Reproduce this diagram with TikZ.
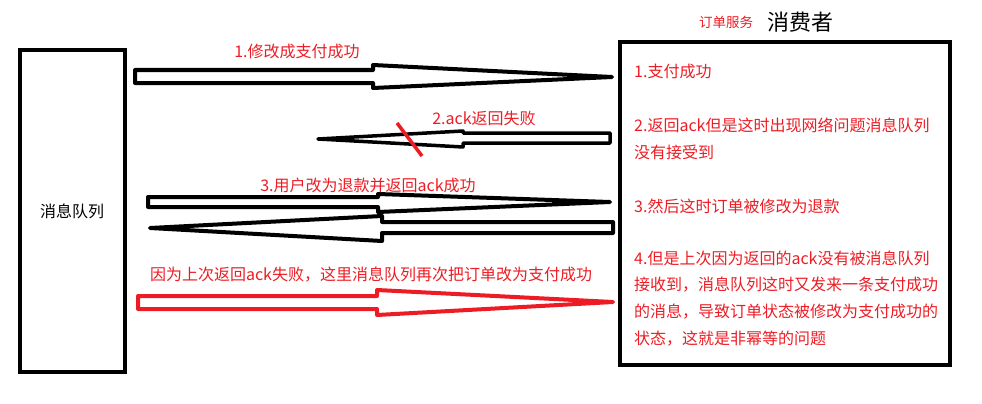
\documentclass[tikz,border=0pt]{standalone}
\usepackage{fontspec}
\setmainfont{Noto Sans CJK SC}
\definecolor{paintred}{RGB}{237,28,36}
\tikzset{
  box/.style={draw, line width=4pt, inner sep=0pt},
  blockarrow/.style={draw, fill=white, line width=4pt, line join=round},
  note/.style={text=paintred, font=\fontsize{16}{18}\selectfont, inner sep=0pt},
  item/.style={note, anchor=west}
}
\begin{document}
\begin{tikzpicture}[x=1pt, y=-1pt]
  \useasboundingbox (0,0) rectangle (982,404);
  % boxes
  \node[box, minimum width=105pt, minimum height=322pt, font=\fontsize{16}{18}\selectfont] (mq) at (72,211) {消息队列};
  \node[box, minimum width=330pt, minimum height=323pt] (consumer) at (785,203.5) {};
  \node[note, font=\fontsize{13.5}{15}\selectfont] (svc) at (726,22) {订单服务};
  \node[inner sep=0pt, font=\fontsize{22}{24}\selectfont] (title) at (800,22) {消费者};

  % 1. pay success
  \draw[blockarrow] (135,70) -- (373,70) -- (373,65) -- (612,77) -- (373,88) -- (373,83) -- (135,83) -- cycle;
  \node[note] (l1) at (297,51) {1.修改成支付成功};

  % 2. ack lost
  \draw[blockarrow, line width=3.5pt] (610,133) -- (463,133) -- (463,131) -- (318,139) -- (463,147) -- (463,143) -- (610,143) -- cycle;
  \draw[paintred, line width=3.5pt] (397,123) -- (422,156);
  \node[note] (l2) at (484,118) {2.ack返回失败};

  % 3. refund
  \draw[blockarrow] (148,197) -- (378,197) -- (378,194) -- (610,202) -- (378,212) -- (378,207) -- (148,207) -- cycle;
  \draw[blockarrow] (613,222) -- (382,222) -- (382,216) -- (150,228) -- (382,241) -- (382,233) -- (613,233) -- cycle;
  \node[note] (l3) at (368,185) {3.用户改为退款并返回ack成功};

  % 4. redelivery
  \draw[blockarrow, draw=paintred] (138,296) -- (377,296) -- (377,290) -- (613,302) -- (377,315) -- (377,309) -- (138,309) -- cycle;
  \node[note] (l4) at (371,275) {因为上次返回ack失败，这里消息队列再次把订单改为支付成功};

  % consumer notes
  \node[item] (s1) at (634,71) {1.支付成功};
  \node[item] (s2a) at (634,125) {2.返回ack但是这时出现网络问题消息队列};
  \node[item] (s2b) at (634,152) {没有接受到};
  \node[item] (s3) at (634,206) {3.然后这时订单被修改为退款};
  \node[item] (s4a) at (634,258) {4.但是上次因为返回的ack没有被消息队列};
  \node[item] (s4b) at (634,285) {接收到，消息队列这时又发来一条支付成功};
  \node[item] (s4c) at (634,312) {的消息，导致订单状态被修改为支付成功的};
  \node[item] (s4d) at (634,339) {状态，这就是非幂等的问题};
\end{tikzpicture}
\end{document}
